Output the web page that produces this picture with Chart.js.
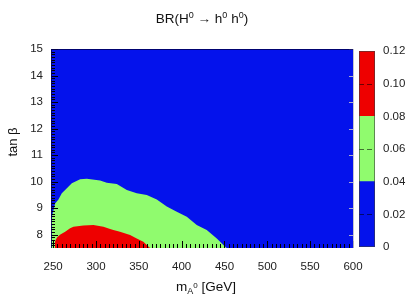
<!DOCTYPE html>
<html>
<head>
<meta charset="utf-8">
<script src="https://cdn.jsdelivr.net/npm/chart.js@4.4.0/dist/chart.umd.min.js"></script>
<style>
  html, body { margin: 0; padding: 0; background: #fff; }
  #wrap { position: relative; width: 409px; height: 298px; }
  #main { position: absolute; left: 0; top: 0; }
  #cbar { position: absolute; left: 340px; top: 0; }
</style>
</head>
<body>
<div id="wrap">
  <canvas id="main" width="409" height="298"></canvas>
  <canvas id="cbar" width="69" height="298"></canvas>
</div>
<script>
// axis ticks
const xTicks = [250, 300, 350, 400, 450, 500, 550, 600];
const yTicks = [8, 9, 10, 11, 12, 13, 14, 15];
const cbTicks = [0, 0.02, 0.04, 0.06, 0.08, 0.1, 0.12];

// colour bar levels (BR)
const cbLevels = [0, 0.04, 0.08, 0.12];

// upper edge of the 0.04-0.08 region (tan beta vs m_A)
const greenMA  = [247.5, 248.5, 252.3, 256.2, 260.1, 266, 271.8, 281.5, 289.3, 304.8, 312.6, 324.3, 336, 347.6, 359.3, 371, 382.6, 394.3, 406, 417.6, 429.3, 441, 448.7, 452.6];
const greenTop = [8.6, 8.68, 9.18, 9.33, 9.56, 9.75, 9.94, 10.09, 10.11, 10.04, 9.96, 9.91, 9.69, 9.56, 9.5, 9.33, 9.06, 8.87, 8.68, 8.37, 8.18, 7.86, 7.61, 7.5];

// upper edge of the 0.08-0.12 region
const redMA  = [252, 252.3, 254.5, 258, 264, 269.8, 273.7, 285.3, 297, 308.7, 316.5, 320.3, 328, 339.8, 347.6, 355.3, 363];
const redTop = [7.5, 7.75, 7.9, 8.0, 8.11, 8.24, 8.3, 8.35, 8.37, 8.3, 8.22, 8.18, 8.11, 7.99, 7.86, 7.74, 7.5];

// whole scanned area (0-0.04)
const blueMA  = [247.5, 600];
const blueTop = [15, 15];

const FONT = '"Liberation Sans", Arial, Helvetica, sans-serif';
const BLUE = '#0412ec';
const GREEN = '#90fb6e';
const RED = '#ee0000';
const cbColors = [BLUE, GREEN, RED];

function pts(xs, ys) {
    return xs.map((x, i) => ({ x: x, y: ys[i] }));
}

// draw a run of text pieces (for super/subscripts), centred on cx
function drawRich(ctx, parts, cx, base) {
    let total = 0;
    parts.forEach(p => {
        ctx.font = p.size + 'px ' + FONT;
        p.w = ctx.measureText(p.t).width;
        total += p.w;
    });
    let x = cx - total / 2;
    ctx.textAlign = 'left';
    ctx.textBaseline = 'alphabetic';
    parts.forEach(p => {
        ctx.font = p.size + 'px ' + FONT;
        ctx.fillText(p.t, x, base + (p.dy || 0));
        x += p.w;
    });
}

const frameTicks = {
    id: 'frameTicks',
    afterDatasetsDraw(chart) {
        const { ctx, chartArea: a, scales: { x, y } } = chart;
        ctx.save();
        ctx.lineWidth = 1;
        ctx.strokeStyle = '#000';
        ctx.beginPath();
        for (let v = 250; v <= 600; v += 5) {
            const px = Math.round(x.getPixelForValue(v)) + 0.5;
            const len = v % 50 === 0 ? 7 : 4;
            ctx.moveTo(px, a.bottom);
            ctx.lineTo(px, a.bottom - len);
        }
        for (let k = 76; k <= 150; k++) {
            const py = Math.round(y.getPixelForValue(k / 10)) + 0.5;
            const len = k % 10 === 0 ? 7 : 4;
            ctx.moveTo(a.left, py);
            ctx.lineTo(a.left + len, py);
        }
        ctx.stroke();

        // right edge
        ctx.strokeStyle = 'rgba(190,190,200,0.9)';
        ctx.beginPath();
        ctx.moveTo(a.right + 0.5, a.top);
        ctx.lineTo(a.right + 0.5, a.bottom);
        yTicks.forEach(v => {
            const py = Math.round(y.getPixelForValue(v)) + 0.5;
            ctx.moveTo(a.right, py);
            ctx.lineTo(a.right - 4, py);
        });
        ctx.stroke();

        // top / left edge
        ctx.strokeStyle = 'rgba(0,0,90,0.85)';
        ctx.beginPath();
        ctx.moveTo(a.left, a.top + 0.5);
        ctx.lineTo(a.right, a.top + 0.5);
        ctx.moveTo(a.left + 0.5, a.top);
        ctx.lineTo(a.left + 0.5, a.bottom);
        ctx.stroke();
        ctx.restore();
    },
    afterDraw(chart) {
        const { ctx, chartArea: a } = chart;
        ctx.save();
        ctx.fillStyle = '#111';
        // title
        drawRich(ctx, [
            { t: 'BR(H', size: 13.5 },
            { t: '0', size: 9, dy: -5 },
            { t: ' \u2192 h', size: 13.5 },
            { t: '0', size: 9, dy: -5 },
            { t: ' h', size: 13.5 },
            { t: '0', size: 9, dy: -5 },
            { t: ')', size: 13.5 }
        ], (a.left + a.right) / 2, 23);
        // x title
        drawRich(ctx, [
            { t: 'm', size: 13.5 },
            { t: 'A', size: 9, dy: 3 },
            { t: '0', size: 8, dy: -3 },
            { t: ' [GeV]', size: 13.5 }
        ], 206, 291);
        // y title
        ctx.translate(13, 142);
        ctx.rotate(-Math.PI / 2);
        ctx.font = '13px ' + FONT;
        ctx.textAlign = 'center';
        ctx.textBaseline = 'middle';
        ctx.fillText('tan \u03b2', 0, 0);
        ctx.restore();
    }
};

new Chart(document.getElementById('main'), {
    type: 'line',
    data: {
        datasets: [
            { data: pts(redMA, redTop), backgroundColor: RED, fill: 'start' },
            { data: pts(greenMA, greenTop), backgroundColor: GREEN, fill: 'start' },
            { data: pts(blueMA, blueTop), backgroundColor: BLUE, fill: 'start' }
        ]
    },
    options: {
        responsive: false,
        animation: false,
        layout: { padding: { top: 49, right: 56, left: 0, bottom: 0 } },
        elements: {
            line: { borderWidth: 0, tension: 0 },
            point: { radius: 0 }
        },
        plugins: {
            legend: { display: false },
            tooltip: { enabled: false }
        },
        scales: {
            x: {
                type: 'linear',
                min: 247.5,
                max: 600,
                afterBuildTicks: s => { s.ticks = xTicks.map(v => ({ value: v })); },
                afterFit: s => { s.height = 50; },
                grid: { display: false, drawTicks: false },
                border: { display: false },
                ticks: { font: { family: FONT, size: 11.5 }, color: '#222', padding: 12, maxRotation: 0, autoSkip: false }
            },
            y: {
                type: 'linear',
                min: 7.5,
                max: 15,
                afterBuildTicks: s => { s.ticks = yTicks.map(v => ({ value: v })); },
                afterFit: s => { s.width = 51; },
                grid: { display: false, drawTicks: false },
                border: { display: false },
                ticks: { font: { family: FONT, size: 11.5 }, color: '#222', padding: 8, autoSkip: false }
            }
        }
    },
    plugins: [frameTicks]
});

// dashed marks inside the colour bar
const cbDash = {
    id: 'cbDash',
    afterDatasetsDraw(chart) {
        const { ctx, chartArea: a, scales: { y } } = chart;
        ctx.save();
        ctx.strokeStyle = 'rgba(0,0,0,0.55)';
        ctx.lineWidth = 1;
        ctx.setLineDash([5, 3]);
        [0.02, 0.06, 0.1].forEach(v => {
            const py = Math.round(y.getPixelForValue(v)) + 0.5;
            ctx.beginPath();
            ctx.moveTo(a.left, py);
            ctx.lineTo(a.right, py);
            ctx.stroke();
        });
        ctx.setLineDash([]);
        ctx.strokeStyle = 'rgba(60,60,60,0.6)';
        ctx.strokeRect(a.left + 0.5, a.top + 0.5, a.right - a.left - 1, a.bottom - a.top - 1);
        ctx.restore();
    }
};

new Chart(document.getElementById('cbar'), {
    type: 'bar',
    data: {
        labels: [''],
        datasets: cbColors.map((c, i) => ({
            data: [[cbLevels[i], cbLevels[i + 1]]],
            backgroundColor: c,
            borderWidth: 0,
            barPercentage: 1,
            categoryPercentage: 1
        }))
    },
    options: {
        responsive: false,
        animation: false,
        layout: { padding: { left: 19, top: 51, bottom: 51, right: 0 } },
        plugins: {
            legend: { display: false },
            tooltip: { enabled: false }
        },
        scales: {
            x: { display: false, stacked: true },
            y: {
                position: 'right',
                min: 0,
                max: 0.12,
                afterBuildTicks: s => { s.ticks = cbTicks.map(v => ({ value: v })); },
                afterFit: s => { s.width = 34; },
                grid: { display: false, drawTicks: false },
                border: { display: false },
                ticks: { font: { family: FONT, size: 11.5 }, color: '#222', padding: 8, autoSkip: false }
            }
        }
    },
    plugins: [cbDash]
});
</script>
</body>
</html>
